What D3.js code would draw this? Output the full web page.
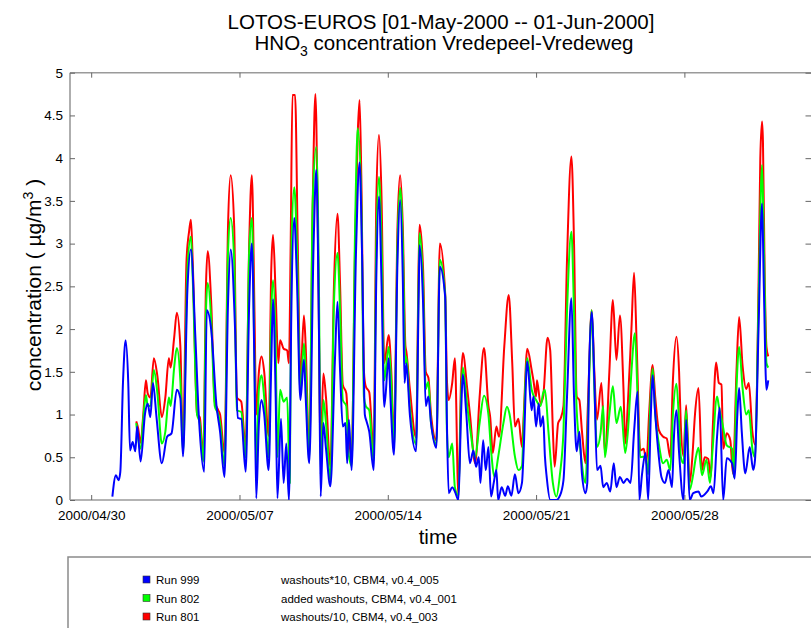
<!DOCTYPE html>
<html><head><meta charset="utf-8">
<script src="https://cdn.jsdelivr.net/npm/d3@7/dist/d3.min.js"></script>
<style>html,body{margin:0;padding:0;background:#fff;}svg{display:block;font-family:"Liberation Sans",Arial,sans-serif;}</style>
</head><body>
<svg id="c" width="811" height="628"></svg>
<script>
// ---- data (hours since 2000-05-01 00:00, concentration in µg/m3) ----
const blueHours = [0,4,7,9,12,15,18,20,23,26,28,32,37,40,43,46,50,56,62,67,73,77,80,85,89,94,98,104,107,112,118,122,127,131,134,139,142,146,151,155,158,161,163,166,169,172,177,180,182,185,187,191,194,197,200,203,206,209,213,217,219,223,228,231,234,236,239,242,247,252,255,258,261,264,266,268,271,276,280,283,286,288,291,296,299,302,305,308,313,315,319,323,326,329,331,333,337,344,347,348,352,355,358,361,367,371,377,379,381,385,388,392,395,397,401,405,409,412,415,417,420,423,426,429,432,435,437,441,445,448,452,456,460,464,466,470,475,477,480,483,485,488,490,492,496,503,507,511,515,520,523,526,529,532,536,538,540,543,546,549,553,556,560,564,568,571,575,579,583,587,591,595,597,600,604,607,610,612,615,619,622,626,630,634,636,639,642,647,650,654,658,664,667,674,678,681,685,688,692,696,702,705,708,710,713,717,722,726,728,732,736,738,741,743];
const blueValues = [0.04,0.29,0.23,0.33,1.37,1.87,1.37,0.58,0.68,0.57,0.86,0.45,1.01,1.13,0.97,1.37,0.97,0.43,0.74,0.78,1.29,1.19,0.51,2.46,2.93,1.91,0.97,0.33,2.22,1.99,1.10,0.80,0.27,2.30,2.93,2.00,0.96,0.95,0.33,2.30,3.00,1.50,0.02,0.90,1.17,1.00,0.35,1.60,2.35,1.20,0.02,0.95,0.20,0.66,0.00,2.40,3.30,2.60,1.17,1.64,1.20,0.43,3.00,3.86,2.00,0.04,0.90,0.60,0.16,1.60,2.32,1.50,0.86,0.90,0.43,0.94,0.35,2.90,3.95,2.80,1.00,0.92,0.80,0.35,2.60,3.55,2.50,1.09,1.66,1.20,0.53,2.80,3.51,2.60,1.37,1.60,1.00,0.57,2.40,2.98,2.30,1.10,1.21,0.90,0.61,2.73,2.38,0.90,0.08,0.15,0.10,0.00,1.00,1.47,1.00,0.43,0.58,0.39,0.50,0.20,0.70,0.35,0.62,0.04,0.20,0.35,0.00,0.15,0.05,0.16,0.05,0.30,0.08,0.20,0.60,1.62,1.05,1.21,0.86,1.13,0.86,0.98,0.51,0.27,0.00,0.00,0.05,0.23,1.20,2.36,1.20,0.57,0.80,0.30,0.08,0.20,1.50,2.20,1.40,0.35,0.40,0.15,0.20,0.10,0.43,0.15,0.27,0.20,0.25,0.20,0.80,1.27,0.00,0.30,0.55,0.00,1.00,1.46,1.00,0.51,0.27,0.20,0.35,0.15,0.70,1.05,0.55,0.00,0.94,0.00,0.08,0.10,0.04,0.10,0.16,0.08,0.74,1.08,0.00,0.49,0.43,0.25,1.00,1.31,0.80,0.31,0.62,0.35,0.47,2.00,3.47,2.50,1.29,1.40];

const greenHours = [27,32,35,38,40,43,47,51,56,60,64,66,70,73,77,80,85,89,91,96,99,103,106,108,112,116,120,122,127,131,134,138,141,146,151,155,158,161,163,166,169,172,177,180,182,185,187,190,194,198,201,203,206,209,213,217,219,223,227,231,234,236,239,242,247,251,255,258,261,265,267,271,275,278,282,285,287,291,296,299,302,305,308,313,316,319,323,326,329,332,333,337,344,347,348,352,355,358,361,367,371,377,379,381,385,388,392,395,397,402,405,411,416,421,426,429,433,437,443,447,450,456,460,464,466,470,475,480,485,488,490,494,499,503,507,511,515,520,523,526,530,536,539,543,546,549,553,556,558,563,567,571,576,581,584,588,592,595,598,604,607,609,612,615,619,624,628,632,635,639,642,644,647,650,654,658,661,664,668,673,677,680,685,687,691,696,702,704,707,710,714,718,721,725,728,732,736,738,741,743];
const greenValues = [0.90,0.60,0.95,1.23,1.10,1.10,1.52,1.25,0.66,0.80,1.20,1.10,1.55,1.78,1.40,0.55,2.70,3.08,2.60,1.00,0.90,0.45,2.20,2.54,2.10,1.10,1.00,0.90,0.40,2.90,3.30,2.80,1.05,1.03,0.50,2.90,3.30,1.60,0.40,1.30,1.46,1.20,0.50,2.20,2.57,1.80,0.50,1.29,1.15,1.20,0.20,3.00,3.66,3.00,1.25,1.83,1.50,0.48,3.50,4.13,2.50,0.30,1.17,0.90,0.23,2.30,2.89,2.20,1.17,1.10,0.60,0.40,3.20,4.35,3.50,1.20,1.10,1.05,0.45,3.00,3.78,3.00,1.40,1.79,1.35,0.60,3.00,3.65,3.00,1.60,1.68,1.10,0.65,2.60,3.12,2.50,1.30,1.38,0.90,0.65,2.81,2.40,0.80,0.50,0.66,0.15,0.05,1.20,1.55,1.10,0.86,0.50,0.90,1.22,1.00,0.58,0.27,0.50,0.90,1.09,1.00,0.51,0.35,0.40,0.90,1.66,1.29,1.17,1.10,1.25,1.29,0.80,0.20,0.04,0.30,0.80,2.20,3.14,2.20,1.05,0.60,0.20,1.00,2.22,1.30,0.62,0.78,1.10,0.50,1.00,1.33,0.90,1.09,0.55,0.80,1.50,1.95,1.20,0.50,0.51,0.30,1.00,1.54,1.00,0.66,0.43,0.47,0.35,1.00,1.36,0.90,0.50,0.43,1.05,0.12,0.30,0.50,0.61,0.29,0.47,0.20,0.60,1.21,1.10,0.90,0.64,0.60,0.27,1.30,1.79,1.30,1.00,1.05,0.60,0.50,2.30,3.92,3.00,1.60,1.55];

const redHours = [27,29,32,35,38,40,43,47,51,56,60,64,66,70,73,77,80,84,87,89,91,96,99,103,106,108,112,116,120,122,127,131,134,138,141,146,151,155,158,161,163,166,169,172,177,180,182,185,188,190,194,198,200,202,204,207,210,213,217,219,223,227,230,233,236,239,242,247,251,255,258,261,265,267,271,275,278,280,282,285,287,291,296,299,302,305,308,313,316,319,323,326,329,332,333,337,344,347,348,352,355,358,361,367,371,377,379,381,385,388,392,395,397,402,405,411,416,421,426,428,431,435,438,444,449,453,456,460,464,466,470,475,477,480,481,485,488,493,496,499,501,505,508,511,515,520,523,526,529,532,536,539,543,546,549,554,558,563,567,571,575,579,581,584,588,591,594,598,602,605,608,612,615,619,624,628,632,635,639,642,644,647,650,654,657,660,664,668,671,675,678,680,684,687,690,692,696,700,703,707,710,714,718,721,725,728,732,734,736,737,739,741,743];
const redValues = [0.92,0.85,0.67,1.00,1.40,1.25,1.20,1.66,1.45,0.97,1.20,1.66,1.55,1.90,2.19,1.80,0.60,2.80,3.15,3.28,2.80,1.00,0.97,0.50,2.50,2.91,2.30,1.15,1.05,1.00,0.55,3.20,3.80,3.20,1.20,1.15,0.62,3.00,3.80,2.20,1.00,1.50,1.68,1.50,0.75,2.70,3.10,2.40,1.60,1.87,1.77,1.75,1.60,3.00,4.74,4.74,3.00,1.40,2.16,1.80,0.55,3.50,4.75,3.00,0.55,1.48,1.20,0.39,2.50,3.35,2.50,1.35,1.25,0.90,0.50,3.00,4.30,4.68,3.80,1.50,1.33,1.26,0.58,3.50,4.27,3.50,1.60,1.93,1.50,0.70,3.20,3.80,3.20,1.80,1.74,1.30,0.73,2.80,3.22,2.70,1.50,1.43,1.00,0.70,3.00,2.42,1.40,1.17,1.37,1.66,0.05,1.40,1.72,1.30,1.01,0.43,1.20,1.78,1.10,0.97,0.55,0.86,0.74,1.80,2.40,1.60,0.86,0.95,0.62,1.00,1.77,1.52,1.40,1.21,1.40,1.13,1.21,1.90,1.75,0.82,0.39,0.90,0.96,1.10,2.80,4.02,3.00,1.21,1.17,0.80,0.43,1.20,2.22,1.50,0.94,1.37,0.55,1.50,2.34,1.64,2.16,1.30,0.66,1.13,2.00,2.66,1.80,0.58,0.60,0.43,1.00,1.58,1.20,0.82,0.74,0.72,0.50,1.40,1.91,1.50,0.86,0.51,1.11,0.20,0.50,1.00,1.31,0.35,0.50,0.48,0.27,0.80,1.61,1.37,1.35,0.60,0.78,0.70,0.31,1.50,2.14,1.56,1.30,1.37,0.80,0.65,2.50,4.00,4.43,4.20,2.60,1.79,1.68];

const yTicks = [0,0.5,1,1.5,2,2.5,3,3.5,4,4.5,5];
const xTickDates = ["2000-04-30","2000-05-07","2000-05-14","2000-05-21","2000-05-28"];
const legendRuns = ["Run 999","Run 802","Run 801"];
const legendDescs = ["washouts*10, CBM4, v0.4_005","added washouts, CBM4, v0.4_001","washouts/10, CBM4, v0.4_003"];
const legendColors = ["#0000ff","#00ff00","#ff0000"];

// ---- drawing ----
const svg = d3.select("#c");
const L = 70, T = 72.7, B = 500, R = 811.5;
const toDate = h => new Date(2000,4,1,h);
const parse = d3.timeParse("%Y-%m-%d");
const x = d3.scaleTime().domain([new Date(2000,3,29), new Date(2000,5,3)]).range([L, R]);
const y = d3.scaleLinear().domain([0,5]).range([B, T]);

svg.append("defs").append("clipPath").attr("id","clip")
  .append("rect").attr("x",L).attr("y",T).attr("width",R-L).attr("height",B-T);

// frame
const axisCol = "#9a9a9a";
svg.append("line").attr("x1",L).attr("x2",R).attr("y1",T).attr("y2",T).attr("stroke",axisCol).attr("stroke-width",1.6);
svg.append("line").attr("x1",L).attr("x2",R).attr("y1",B).attr("y2",B).attr("stroke",axisCol).attr("stroke-width",1.6);
svg.append("line").attr("x1",L).attr("x2",L).attr("y1",T).attr("y2",B).attr("stroke",axisCol).attr("stroke-width",1.6);

// x axis (ticks inward, labels below)
const xTicks = xTickDates.map(parse);
const fmt = d3.timeFormat("%Y/%m/%d");
const xAxisB = d3.axisBottom(x).tickValues(xTicks).tickFormat(fmt).tickSizeInner(-5).tickSizeOuter(0).tickPadding(10);
const gx = svg.append("g").attr("transform",`translate(0,${B})`).call(xAxisB);
gx.select(".domain").remove();
gx.selectAll(".tick line").attr("stroke","#666");
gx.selectAll("text").attr("font-size",13.5).attr("fill","#000").attr("font-family","Liberation Sans, Arial, sans-serif");
const gxT = svg.append("g").attr("transform",`translate(0,${T})`).call(d3.axisTop(x).tickValues(xTicks).tickFormat("").tickSizeInner(-5).tickSizeOuter(0));
gxT.select(".domain").remove(); gxT.selectAll(".tick line").attr("stroke","#666");

// y axis
const gy = svg.append("g").attr("transform",`translate(${L},0)`).call(d3.axisLeft(y).tickValues(yTicks).tickFormat(d3.format("")).tickSizeInner(-5).tickSizeOuter(0).tickPadding(7));
gy.select(".domain").remove();
gy.selectAll(".tick line").attr("stroke","#666");
gy.selectAll("text").attr("font-size",13.5).attr("fill","#000").attr("font-family","Liberation Sans, Arial, sans-serif");
const gyR = svg.append("g").attr("transform",`translate(${R},0)`).call(d3.axisRight(y).tickValues(yTicks).tickFormat("").tickSizeInner(-6).tickSizeOuter(0));
gyR.select(".domain").remove(); gyR.selectAll(".tick line").attr("stroke","#666");

// series
const line = d3.line().x(d => x(toDate(d[0]))).y(d => y(d[1])).curve(d3.curveMonotoneX);
const series = [
  {h: redHours, v: redValues, c: "#ff0000"},
  {h: greenHours, v: greenValues, c: "#00ff00"},
  {h: blueHours, v: blueValues, c: "#0000ff"}
];
const gl = svg.append("g").attr("clip-path","url(#clip)");
series.forEach(s => {
  gl.append("path").datum(s.h.map((h,i)=>[h,s.v[i]]))
    .attr("d", line).attr("fill","none").attr("stroke", s.c)
    .attr("stroke-width", 2).attr("stroke-linejoin","round");
});

// titles
svg.append("text").attr("x",441).attr("y",29).attr("text-anchor","middle").attr("font-size",20.5).text("LOTOS-EUROS [01-May-2000 -- 01-Jun-2000]");
const t2 = svg.append("text").attr("x",444).attr("y",50).attr("text-anchor","middle").attr("font-size",20.5);
t2.append("tspan").text("HNO");
t2.append("tspan").attr("font-size",14).attr("dy",6).text("3");
t2.append("tspan").attr("dy",-6).text(" concentration Vredepeel-Vredeweg");

// axis labels
svg.append("text").attr("x",438).attr("y",544).attr("text-anchor","middle").attr("font-size",20.5).text("time");
const yl = svg.append("text").attr("transform","translate(41,285) rotate(-90)").attr("text-anchor","middle").attr("font-size",21);
yl.append("tspan").text("concentration ( \u00b5g/m");
yl.append("tspan").attr("font-size",14).attr("dy",-8).text("3");
yl.append("tspan").attr("dy",8).text(" )");

// legend box
svg.append("rect").attr("x",68).attr("y",557).attr("width",760).attr("height",100).attr("fill","#fff").attr("stroke","#8a8a8a").attr("stroke-width",1.5);
const lg = svg.append("g");
legendRuns.forEach((r,i) => {
  const yy = 580 + i*18.5;
  lg.append("rect").attr("x",143).attr("y",yy-4).attr("width",7).attr("height",7).attr("fill",legendColors[i]).attr("stroke","#333").attr("stroke-width",0.6);
  lg.append("text").attr("x",156).attr("y",yy+4).attr("font-size",11.5).text(r);
  lg.append("text").attr("x",281).attr("y",yy+4).attr("font-size",11.5).text(legendDescs[i]);
});
</script>
</body></html>
